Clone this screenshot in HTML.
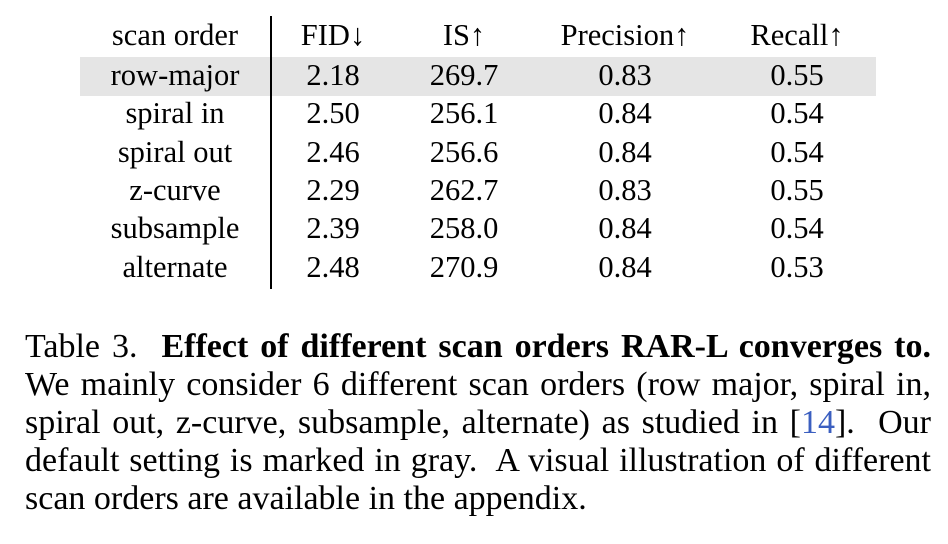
<!DOCTYPE html>
<html><head><meta charset="utf-8">
<style>
html,body{margin:0;padding:0;background:#fff;}
body{width:948px;height:544px;position:relative;overflow:hidden;font-family:"Liberation Serif","DejaVu Serif",serif;color:#000;}
.hl{position:absolute;left:80px;top:57px;width:796px;height:39px;background:#e5e5e5;}
.vl{position:absolute;left:270px;top:16px;width:1.5px;height:273px;background:#000;}
.c{position:absolute;font-size:30.5px;line-height:38px;text-align:center;transform:translateX(-50%);white-space:nowrap;}
.cap{position:absolute;left:25px;width:906px;font-size:34px;line-height:38px;text-align:justify;text-align-last:justify;white-space:nowrap;}
.cap.last{text-align-last:left;}
a{color:#3b5fc0;text-decoration:none;}
</style></head><body>
<div class="hl"></div>
<div class="vl"></div>
<div id="tbl"></div>
<div class="cap" style="top:328px">Table 3.&nbsp; <b>Effect of different scan orders RAR-L converges to.</b></div>
<div class="cap" style="top:366px">We mainly consider 6 different scan orders (row major, spiral in,</div>
<div class="cap" style="top:404px">spiral out, z-curve, subsample, alternate) as studied in [<a>14</a>].&nbsp; Our</div>
<div class="cap" style="top:442px">default setting is marked in gray.&nbsp; A visual illustration of different</div>
<div class="cap last" style="top:480px">scan orders are available in the appendix.</div>
<script>
const headers=["scan order","FID↓","IS↑","Precision↑","Recall↑"];
const orders=["row-major","spiral in","spiral out","z-curve","subsample","alternate"];
const fid=["2.18","2.50","2.46","2.29","2.39","2.48"];
const is=["269.7","256.1","256.6","262.7","258.0","270.9"];
const prec=["0.83","0.84","0.84","0.83","0.84","0.84"];
const rec=["0.55","0.54","0.54","0.55","0.54","0.53"];
const colX=[175,333,464,625,797];
const tbl=document.getElementById('tbl');
function cell(txt,x,y,name){
  const d=document.createElement('div');
  d.className='c';d.textContent=txt;
  d.style.left=x+'px';d.style.top=y+'px';
  
  
  tbl.appendChild(d);
}
headers.forEach((h,i)=>cell(h,colX[i],16,'header-'+i));
const cols=[orders,fid,is,prec,rec];
orders.forEach((o,r)=>{
  const y=56+r*38.3;
  cols.forEach((c,i)=>cell(c[r],colX[i],y,'cell-r'+r+'-c'+i));
});
</script>
</body></html>
